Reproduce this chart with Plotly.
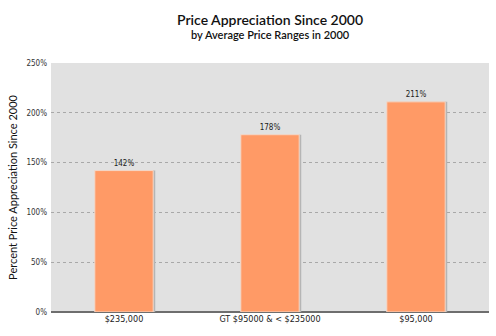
import plotly.graph_objects as go

categories = ["$235,000", "GT $95000 &amp; < $235000", "$95,000"]
values = [142, 178, 211]
labels = ["142%", "178%", "211%"]
tick_vals = [0, 50, 100, 150, 200, 250]
tick_text = ["0%", "50%", "100%", "150%", "200%", "250%"]

fig = go.Figure()
# soft shadow behind each bar
fig.add_trace(go.Bar(
    x=categories, y=values, width=0.4, offset=-0.2 + 0.014,
    marker=dict(color="#B5B5B5", line=dict(width=0)), hoverinfo="skip",
))
fig.add_trace(go.Bar(
    x=categories, y=values, text=labels, textposition="outside",
    textfont=dict(size=8, color="#222", family="DejaVu Sans Condensed"),
    marker=dict(color="#FF9A66", line=dict(color="#F4D8C8", width=1)),
    cliponaxis=False, width=0.4, offset=-0.2,
))
fig.update_layout(
    width=496, height=336,
    margin=dict(l=51, r=7, t=63, b=24),
    paper_bgcolor="white", plot_bgcolor="#E1E1E1",
    showlegend=False, barmode="overlay",
    font=dict(family="DejaVu Sans Condensed", color="#222"),
    uniformtext=dict(mode=False),
    annotations=[
        dict(text="Price Appreciation Since 2000", x=0.5, y=19, xref="paper", yref="paper",
             showarrow=False, font=dict(size=14, family="Lato", color="#111", weight=600)),
        dict(text="by Average Price Ranges in 2000", x=0.5, y=34, xref="paper", yref="paper",
             showarrow=False, font=dict(size=11, family="Lato", color="#111", weight=600)),
    ],
)
ph = 336 - 63 - 24
for a, py in zip(fig.layout.annotations, [19, 34]):
    a.y = (336 - 24 - py) / ph
    a.yanchor = "middle"
fig.update_xaxes(
    showgrid=False, tickfont=dict(size=9, family="DejaVu Sans Condensed", color="#222"),
    ticks="", showline=False,
)
fig.update_yaxes(
    range=[0, 250], tickvals=tick_vals, ticktext=tick_text,
    tickfont=dict(size=8, family="DejaVu Sans Condensed", color="#333"),
    showgrid=True, gridcolor="#A8A8A8", griddash="dot", gridwidth=1,
    zeroline=True, zerolinecolor="#6E6E6E", zerolinewidth=2,
    ticks="", ticklabelstandoff=3,
    title=dict(text="Percent Price Appreciation Since 2000",
               font=dict(size=11, family="Lato", color="#111"), standoff=6),
)
fig.write_html("out.html")
